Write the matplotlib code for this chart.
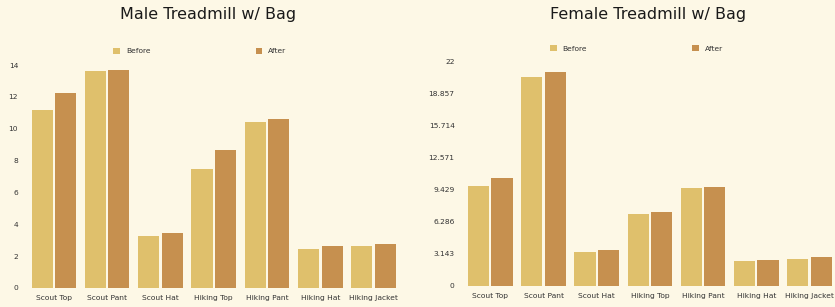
import matplotlib
matplotlib.use('Agg')
import matplotlib.pyplot as plt
import numpy as np

categories = ['Scout Top', 'Scout Pant', 'Scout Hat', 'Hiking Top',
              'Hiking Pant', 'Hiking Hat', 'Hiking Jacket']

male_before = [11.2, 13.65, 3.25, 7.5, 10.4, 2.45, 2.65]
male_after = [12.25, 13.7, 3.45, 8.65, 10.6, 2.65, 2.75]

female_before = [9.8, 20.5, 3.3, 7.05, 9.6, 2.5, 2.65]
female_after = [10.6, 21.0, 3.5, 7.3, 9.7, 2.6, 2.8]

male_ticks = [0, 2, 4, 6, 8, 10, 12, 14]
female_ticks = [22 * k / 7 for k in range(8)]

BG = '#fdf8e6'
C_BEFORE = '#dfc06c'
C_AFTER = '#c6904f'
TXT = '#333333'


def draw(ax, before, after, ticks, ylabel_fmt):
    x = np.arange(len(categories))
    w = 0.395
    ax.bar(x - 0.22, before, w, color=C_BEFORE, label='Before')
    ax.bar(x + 0.22, after, w, color=C_AFTER, label='After')
    ax.set_xlim(-0.5, len(categories) - 0.5)
    ax.set_ylim(0, ticks[-1])
    ax.set_yticks(ticks)
    ax.set_yticklabels([ylabel_fmt(t) for t in ticks])
    ax.set_xticks(x)
    ax.set_xticklabels(categories)
    ax.set_facecolor(BG)
    for s in ax.spines.values():
        s.set_visible(False)
    ax.tick_params(axis='both', length=0, labelsize=5.4, colors=TXT)
    ax.tick_params(axis='x', pad=5)
    ax.tick_params(axis='y', pad=6.5)


fig = plt.figure(figsize=(8.35, 3.07), dpi=100, facecolor=BG)

ax1 = fig.add_axes([27.2 / 835, 19 / 307, 373.1 / 835, 223 / 307])
draw(ax1, male_before, male_after, male_ticks, lambda t: '%d' % t)

ax2 = fig.add_axes([463.7 / 835, 21 / 307, 372.4 / 835, 224 / 307])
draw(ax2, female_before, female_after, female_ticks,
     lambda t: ('%.3f' % t).rstrip('0').rstrip('.'))

fig.text(208 / 835, 1 - 15 / 307, 'Male Treadmill w/ Bag', ha='center',
         va='center', fontsize=11.5, color='#1a1a1a')
fig.text(648 / 835, 1 - 14 / 307, 'Female Treadmill w/ Bag', ha='center',
         va='center', fontsize=11.5, color='#1a1a1a')

for ax, cx, cy in [(ax1, 200, 51), (ax2, 636.5, 48.5)]:
    ax.legend(loc='center', bbox_to_anchor=(cx / 835, 1 - cy / 307),
              bbox_transform=fig.transFigure, ncol=2, frameon=False,
              fontsize=5.4, labelcolor=TXT, handlelength=0.9,
              handleheight=0.9, handletextpad=0.8, columnspacing=14)

fig.savefig('out.png', dpi=100, facecolor=BG)
